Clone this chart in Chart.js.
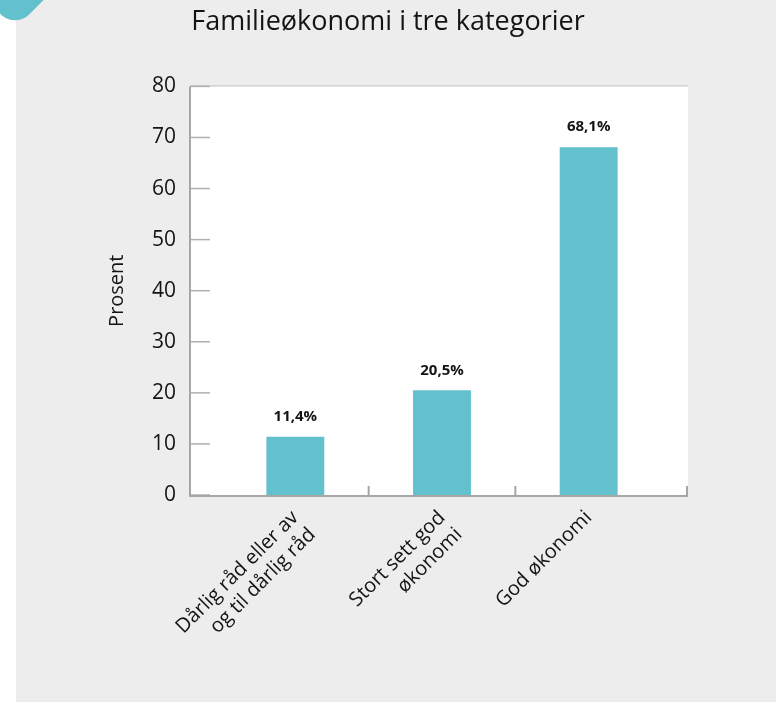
<!DOCTYPE html>
<html lang="no">
<head>
<meta charset="utf-8">
<title>Familieøkonomi i tre kategorier</title>
<script src="https://cdn.jsdelivr.net/npm/chart.js@4"></script>
<style>
  html, body { margin: 0; padding: 0; }
  body { width: 776px; height: 702px; background: #ededed; position: relative; overflow: hidden; }
  .strip { position: absolute; left: 0; top: 0; width: 16px; height: 702px; background: #fff; }
  .corner { position: absolute; left: -25px; top: -68px; width: 80px; height: 80px;
            background: #63c1ce; border-radius: 20px; transform: rotate(45deg); }
  canvas { position: absolute; left: 0; top: 0; }
</style>
</head>
<body>
<div class="strip"></div>
<div class="corner"></div>
<canvas id="chart" width="776" height="702"></canvas>
<script>
// data
const chartTitle = 'Familieøkonomi i tre kategorier';
const yTitle = 'Prosent';
const categories = [
  ['Dårlig råd eller av', 'og til dårlig råd'],
  ['Stort sett god', 'økonomi'],
  ['God økonomi']
];
const values = [11.4, 20.5, 68.1];
const yMin = 0;
const yMax = 80;
const yStep = 10;

const textColor = '#141414';
const barColor = '#63c1ce';
const axisColor = '#a6a6a6';

Chart.defaults.font.family = "'Open Sans', sans-serif";

// the white plot frame is a bit wider than the category band
const frameLeft = 32;
const frameRight = 26;

const framePlugin = {
  id: 'frame',
  beforeDraw(chart) {
    const { ctx, chartArea } = chart;
    const x0 = chartArea.left - frameLeft;
    const x1 = chartArea.right + frameRight;
    ctx.save();
    ctx.fillStyle = '#fff';
    ctx.fillRect(x0, chartArea.top, x1 - x0, chartArea.bottom - chartArea.top + 1);
    ctx.fillStyle = '#c8c4bd';
    ctx.fillRect(x0, chartArea.top - 1, x1 - x0, 1);
    ctx.restore();
  },
  afterDatasetsDraw(chart) {
    const { ctx, chartArea, scales } = chart;
    const x0 = chartArea.left - frameLeft;
    const x1 = chartArea.right + frameRight;
    const yS = scales.y;
    const xS = scales.x;
    ctx.save();
    // y ticks pointing inwards
    ctx.strokeStyle = '#b0b0b0';
    ctx.lineWidth = 1.5;
    yS.ticks.forEach(t => {
      const y = yS.getPixelForValue(t.value);
      ctx.beginPath();
      ctx.moveTo(x0, y);
      ctx.lineTo(x0 + 20, y);
      ctx.stroke();
    });
    // axis lines
    ctx.strokeStyle = axisColor;
    ctx.lineWidth = 2;
    ctx.beginPath();
    ctx.moveTo(x0, chartArea.top);
    ctx.lineTo(x0, chartArea.bottom + 2);
    ctx.moveTo(x0 - 1, chartArea.bottom + 1);
    ctx.lineTo(x1, chartArea.bottom + 1);
    // x ticks between categories and at the right end
    for (let i = 0; i < values.length - 1; i++) {
      const x = (xS.getPixelForValue(i) + xS.getPixelForValue(i + 1)) / 2;
      ctx.moveTo(x, chartArea.bottom - 9);
      ctx.lineTo(x, chartArea.bottom + 1);
    }
    ctx.moveTo(x1 - 1, chartArea.bottom - 9);
    ctx.lineTo(x1 - 1, chartArea.bottom + 1);
    ctx.stroke();
    ctx.restore();
  }
};

const valueLabels = {
  id: 'valueLabels',
  afterDatasetsDraw(chart) {
    const { ctx } = chart;
    const meta = chart.getDatasetMeta(0);
    ctx.save();
    ctx.fillStyle = textColor;
    ctx.font = "bold 15px 'Open Sans', sans-serif";
    ctx.textAlign = 'center';
    ctx.textBaseline = 'middle';
    meta.data.forEach((bar, i) => {
      const txt = values[i].toFixed(1).replace('.', ',') + '%';
      ctx.fillText(txt, bar.x, bar.y - 20);
    });
    ctx.restore();
  }
};

new Chart(document.getElementById('chart'), {
  type: 'bar',
  data: {
    labels: categories,
    datasets: [{
      data: values,
      backgroundColor: barColor,
      barPercentage: 0.395,
      categoryPercentage: 1
    }]
  },
  options: {
    responsive: false,
    animation: false,
    plugins: {
      legend: { display: false },
      tooltip: { enabled: false },
      title: {
        display: true,
        text: chartTitle,
        color: textColor,
        font: { size: 27, weight: 'normal' },
        padding: { top: 6, bottom: 48 }
      }
    },
    scales: {
      x: {
        grid: { display: false, drawTicks: false },
        border: { display: false },
        ticks: {
          color: textColor,
          font: { size: 20, lineHeight: 1.2 },
          minRotation: 45,
          maxRotation: 45,
          autoSkip: false,
          padding: 11
        },
        afterFit: s => { s.height = 207; }
      },
      y: {
        min: yMin,
        max: yMax,
        ticks: { stepSize: yStep, color: textColor, font: { size: 21 }, padding: 46 },
        grid: { display: false, drawTicks: false },
        border: { display: false },
        title: {
          display: true,
          text: yTitle,
          color: textColor,
          font: { size: 20 },
          padding: { top: 105, bottom: 0 }
        },
        afterFit: s => { s.width = 222; }
      },
      y2: {
        position: 'right',
        grid: { display: false, drawTicks: false },
        border: { display: false },
        ticks: { display: false },
        afterFit: s => { s.width = 114; }
      }
    }
  },
  plugins: [framePlugin, valueLabels]
});
</script>
</body>
</html>
